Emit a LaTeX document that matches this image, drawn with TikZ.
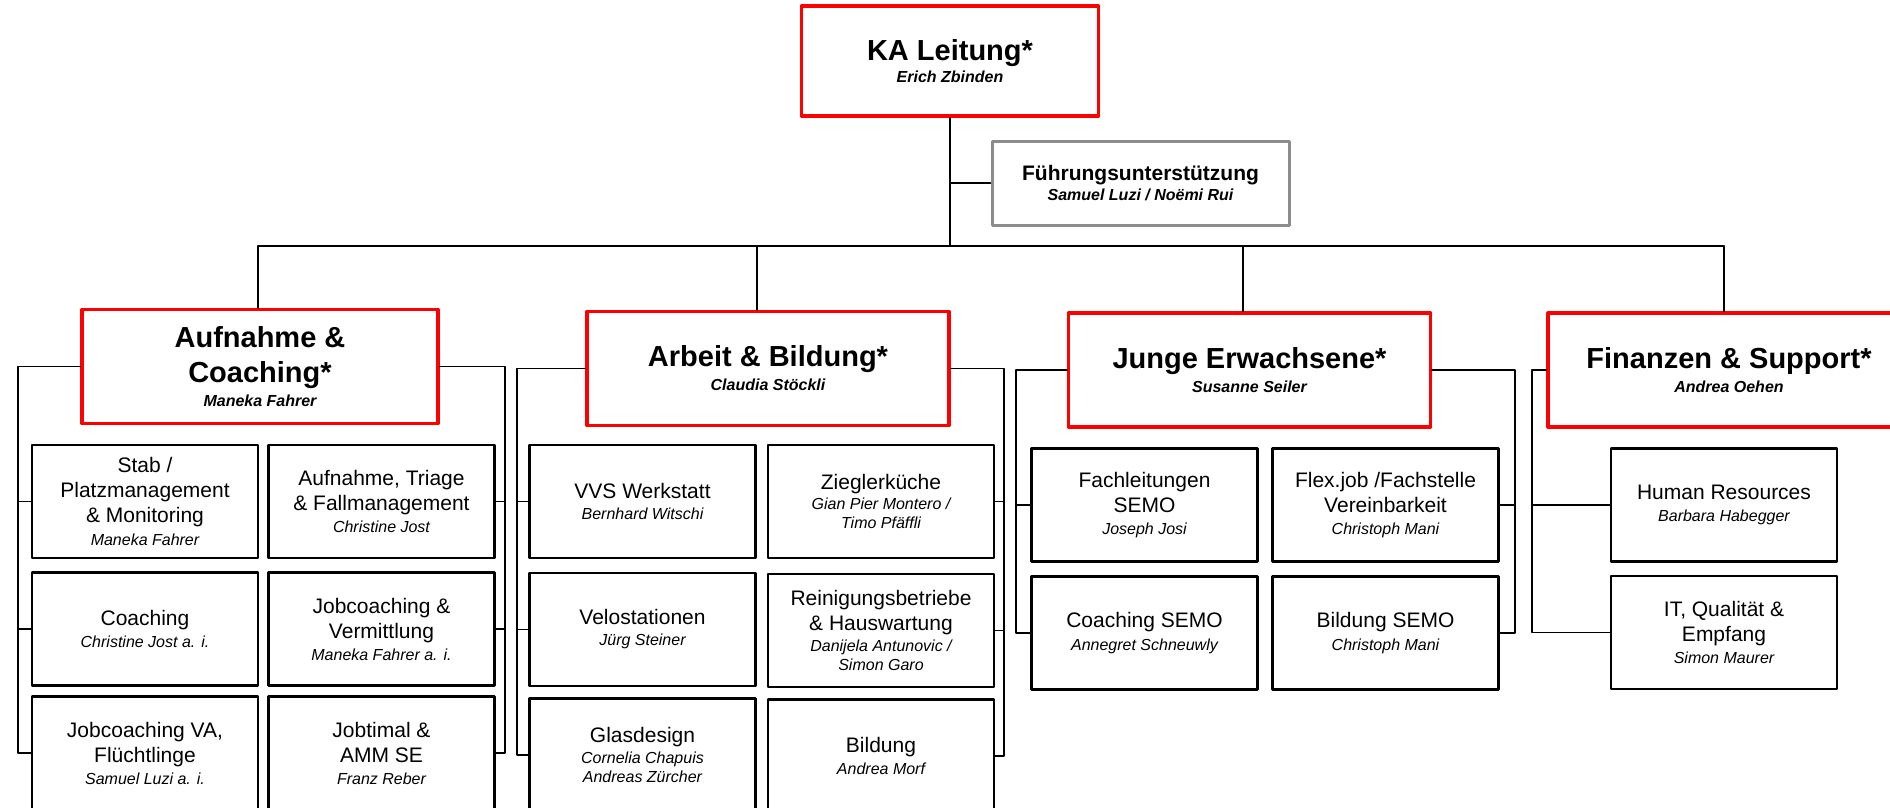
\documentclass[tikz,border=0pt]{standalone}
\usepackage{fontspec}
\setmainfont{Liberation Sans}
\newcommand\nm{\fontsize{16}{18.5}\selectfont\itshape}
\begin{document}
\begin{tikzpicture}[x=1pt, y=-1pt, line join=round, line cap=round]
	\tikzset{box/.style={draw, align=center, inner sep=0pt},
		head/.style={box, draw=red, line width=3.2pt, minimum width=362pt, minimum height=114pt, font=\bfseries\fontsize{29}{35}\selectfont},
		unit/.style={box, line width=2.6pt, minimum width=226pt, minimum height=113pt, font=\fontsize{21}{25}\selectfont},
		link/.style={line width=1.4pt}}
	\useasboundingbox (0,0) rectangle (1890,807);
	\clip (0,0) rectangle (1890,807);
	\node[head, minimum width=297pt, minimum height=110pt] (ka) at (950,61) {KA Leitung*\\[-12.5pt]\nm Erich Zbinden};
	\node[box, draw=black!45, line width=3pt, minimum width=297pt, minimum height=84pt, font=\bfseries\fontsize{21}{25}\selectfont] (fu) at (1140.5,183) {Führungsunterstützung\\[-5pt]\nm Samuel Luzi / Noëmi Rui};
	\node[head, minimum width=356pt] (auf) at (260,366.5) {Aufnahme \&\\Coaching*\\[-11.5pt]\nm Maneka Fahrer};
	\node[head] (arb) at (768,368.5) {Arbeit \& Bildung*\\[-11pt]\nm Claudia Stöckli};
	\node[head] (jun) at (1249.5,370) {Junge Erwachsene*\\[-11pt]\nm Susanne Seiler};
	\node[head] (fin) at (1729,370) {Finanzen \& Support*\\[-11pt]\nm Andrea Oehen};
	\node[unit] (a1) at (145,501.5) {Stab /\\Platzmanagement\\\& Monitoring\\[-1.5pt]\nm Maneka Fahrer};
	\node[unit] (a2) at (381.5,501.5) {Aufnahme, Triage\\\& Fallmanagement\\[-3pt]\nm Christine Jost};
	\node[unit] (a3) at (145,629) {Coaching\\[-3pt]\nm Christine Jost a. i.};
	\node[unit] (a4) at (381.5,629) {Jobcoaching \&\\Vermittlung\\[-3pt]\nm Maneka Fahrer a. i.};
	\node[unit] (a5) at (145,753) {Jobcoaching VA,\\Flüchtlinge\\[-3pt]\nm Samuel Luzi a. i.};
	\node[unit] (a6) at (381.5,753) {Jobtimal \&\\AMM SE\\[-3pt]\nm Franz Reber};
	\node[unit] (b1) at (642.5,501.5) {VVS Werkstatt\\[-4pt]\nm Bernhard Witschi};
	\node[unit] (b2) at (881,501.5) {Zieglerküche\\[-5pt]\nm Gian Pier Montero /\\[-5.5pt]\nm Timo Pfäffli};
	\node[unit] (b3) at (642.5,629.5) {Velostationen\\[-4pt]\nm Jürg Steiner};
	\node[unit] (b4) at (881,630.5) {Reinigungsbetriebe\\\& Hauswartung\\[-4pt]\nm Danijela Antunovic /\\[-5.5pt]\nm Simon Garo};
	\node[unit] (b5) at (642.5,755) {Glasdesign\\[-4pt]\nm Cornelia Chapuis\\[-5.5pt]\nm Andreas Zürcher};
	\node[unit] (b6) at (881,756) {Bildung\\[-3pt]\nm Andrea Morf};
	\node[unit] (c1) at (1144.5,505) {Fachleitungen\\SEMO\\[-2.5pt]\nm Joseph Josi};
	\node[unit] (c2) at (1385.5,505) {Flex.job /Fachstelle\\Vereinbarkeit\\[-2.5pt]\nm Christoph Mani};
	\node[unit] (c3) at (1144.5,633) {Coaching SEMO\\[-2.5pt]\nm Annegret Schneuwly};
	\node[unit] (c4) at (1385.5,633) {Bildung SEMO\\[-2.5pt]\nm Christoph Mani};
	\node[unit] (d1) at (1724,505) {Human Resources\\[-2.5pt]\nm Barbara Habegger};
	\node[unit] (d2) at (1724,632.5) {IT, Qualität \&\\Empfang\\[-2.5pt]\nm Simon Maurer};
	\coordinate (t1) at (258,246);
	\coordinate (t2) at (757,246);
	\coordinate (t3) at (1243,246);
	\coordinate (t4) at (1724,246);
	\foreach \c/\x in {aL/18, aR/505, bL/517, bR/1004, cL/1016, cR/1515, dL/1532} \coordinate (\c) at (\x,0);
	\draw[link] (ka.south) -- (ka.south |- t1);
	\draw[link] (fu.west) -- (fu.west -| ka.south);
	\draw[link] (t1) -- (t4);
	\foreach \t/\h in {t1/auf, t2/arb, t3/jun, t4/fin} \draw[link] (\t) -- (\t |- \h.north);
	\foreach \h/\l/\r/\s in {auf/aL/aR/a, arb/bL/bR/b} {
		\draw[link] (\h.west) -| (\l |- \s5.west) -- (\s5.west);
		\draw[link] (\h.east) -| (\r |- \s6.east) -- (\s6.east);
		\foreach \i in {1,3} \draw[link] (\l |- \s\i.west) -- (\s\i.west);
		\foreach \i in {2,4} \draw[link] (\r |- \s\i.east) -- (\s\i.east);
	}
	\draw[link] (jun.west) -| (cL |- c3.west) -- (c3.west);
	\draw[link] (jun.east) -| (cR |- c4.east) -- (c4.east);
	\draw[link] (cL |- c1.west) -- (c1.west);
	\draw[link] (cR |- c2.east) -- (c2.east);
	\draw[link] (fin.west) -| (dL |- d2.west) -- (d2.west);
	\draw[link] (dL |- d1.west) -- (d1.west);
\end{tikzpicture}
\end{document}
